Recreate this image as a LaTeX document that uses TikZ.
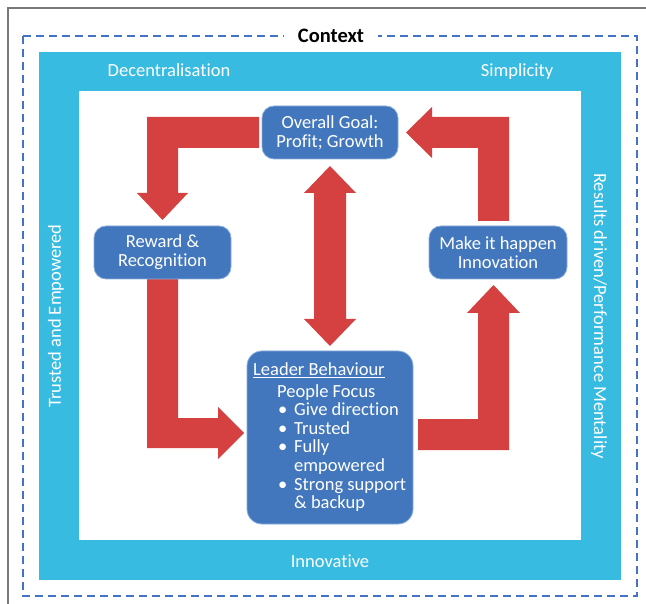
\documentclass[tikz,border=0pt]{standalone}
\usepackage{fontspec}
\setmainfont{Carlito}[RawFeature={-liga,-clig,-dlig}]
\definecolor{bandcyan}{RGB}{56,187,224}
\definecolor{boxblue}{RGB}{66,119,190}
\definecolor{boxedge}{RGB}{140,175,220}
\definecolor{arrred}{RGB}{213,64,64}
\definecolor{dashblue}{RGB}{68,114,196}
\definecolor{framegray}{RGB}{120,120,120}
\begin{document}
\begin{tikzpicture}[x=1pt,y=-1pt,
  txt/.style={text=white, font=\fontsize{18.5}{19}\selectfont, inner sep=0pt},
  bluebox/.style={fill=boxblue, draw=boxedge, line width=0.8pt, rounded corners=12pt,
     text=white, font=\fontsize{18.5}{19}\selectfont, align=center, inner sep=0pt},
  blockarrow/.style={fill=arrred, draw=none}
]
\useasboundingbox (0,0) rectangle (646,604);
% outer frame (partial)
\draw[framegray, line width=1.2pt] (8,604) -- (8,8) -- (646,8);
% dashed context rectangle
\draw[dashblue, line width=2.3pt, dash pattern=on 8pt off 5pt] (23,36) rectangle (637,596);
% cyan band and white inner area
\fill[bandcyan] (39,52) rectangle (621,580);
\fill[white] (79,91) rectangle (581,540);
% context label
\node[fill=white, inner xsep=14pt, inner ysep=3pt, font=\bfseries\fontsize{20.5}{22}\selectfont] (context) at (331,36) {Context};
% band labels
\node[txt, anchor=base] (dec) at (169,77) {Decentralisation};
\node[txt, anchor=base] (simp) at (517,77) {Simplicity};
\node[txt, anchor=base] (innov) at (330,567) {Innovative};
\node[txt, rotate=90] (trust) at (56,316) {Trusted and Empowered};
\node[txt, rotate=-90] (results) at (599,316) {Results driven/Performance Mentality};
% block arrows
\fill[blockarrow] (259,117) -- (147,117) -- (147,193) -- (137,193) -- (162.5,220) -- (188,193) -- (178,193) -- (178,148) -- (259,148) -- cycle;
\fill[blockarrow] (509,221) -- (509,117) -- (432,117) -- (432,107) -- (406,132.5) -- (432,158) -- (432,148) -- (478,148) -- (478,221) -- cycle;
\fill[blockarrow] (330,166) -- (356,193) -- (346,193) -- (346,319) -- (356,319) -- (330,346) -- (304,319) -- (314,319) -- (314,193) -- (304,193) -- cycle;
\fill[blockarrow] (147,279) -- (147,448) -- (218,448) -- (218,459) -- (244,433) -- (218,407) -- (218,418) -- (178,418) -- (178,279) -- cycle;
\fill[blockarrow] (418,419) -- (418,450) -- (509,450) -- (509,313) -- (520,313) -- (493.5,285) -- (467,313) -- (478,313) -- (478,419) -- cycle;
% boxes
\node[bluebox, minimum width=136pt, minimum height=53pt] (goal) at (330,132.5) {Overall Goal:\\Profit; Growth};
\node[bluebox, minimum width=137pt, minimum height=53pt] (reward) at (162.5,252.5) {Reward \&\\Recognition};
\node[bluebox, minimum width=138pt, minimum height=53pt] (make) at (498,252.5) {Make it happen\\Innovation};
\node[bluebox, rounded corners=15pt, minimum width=166pt, minimum height=173pt] (leader) at (330,437.5) {};
% leader text
\node[txt, anchor=base west] (lb) at (253,376) {\underline{Leader Behaviour}};
\node[txt, anchor=base west] (pf) at (277,397.5) {People Focus};
\node[txt, anchor=base west] (b1) at (278,415) {\textbullet};
\node[txt, anchor=base west] (t1) at (294,415) {Give direction};
\node[txt, anchor=base west] (b2) at (278,434) {\textbullet};
\node[txt, anchor=base west] (t2) at (294,434) {Trusted};
\node[txt, anchor=base west] (b3) at (278,453) {\textbullet};
\node[txt, anchor=base west] (t3) at (294,453) {Fully};
\node[txt, anchor=base west] (t3b) at (294,471) {empowered};
\node[txt, anchor=base west] (b4) at (278,490) {\textbullet};
\node[txt, anchor=base west] (t4) at (294,490) {Strong support};
\node[txt, anchor=base west] (t4b) at (294,508) {\& backup};
\end{tikzpicture}
\end{document}
